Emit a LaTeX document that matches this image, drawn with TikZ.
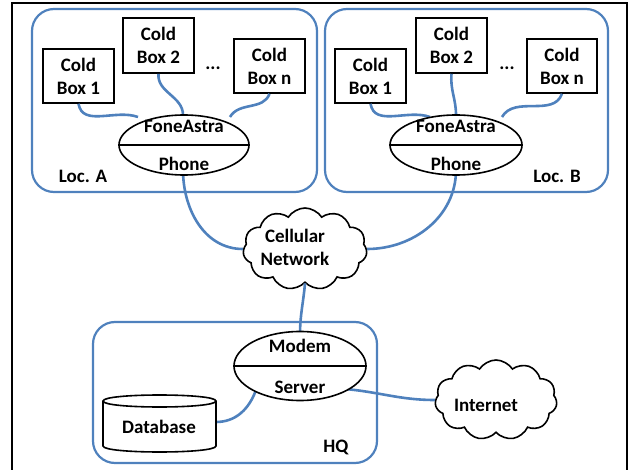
\documentclass[tikz,border=0pt]{standalone}
\usepackage{fontspec}
\setmainfont{Carlito}
\usetikzlibrary{shapes.geometric,shapes.symbols}
\definecolor{wireblue}{HTML}{4F81BD}
\begin{document}
\begin{tikzpicture}[x=1pt,y=-1pt,
  every node/.style={font=\fontsize{19}{23}\selectfont\bfseries},
  area/.style={draw=wireblue, line width=2.2pt, rounded corners=22pt},
  coldbox/.style={draw=black, line width=1.6pt, fill=white, minimum width=71pt, minimum height=54pt, align=center, inner sep=0pt},
  dev/.style={draw=black, line width=1.6pt, fill=white, ellipse, inner sep=0pt},
  netcloud/.style={draw=black, line width=1.6pt, fill=white, cloud, cloud puffs=11, cloud puff arc=115, inner sep=0pt},
  wire/.style={draw=wireblue, line width=2.6pt},
  lbl/.style={inner sep=0pt, align=center}]
\useasboundingbox (0,0) rectangle (629,470);
% outer frame
\draw[black, line width=1.3pt] (12,475) -- (12,3) -- (627,3) -- (627,475);
% areas
\node[area, minimum width=285pt, minimum height=183pt] (locA) at (174.5,100.5) {};
\node[area, minimum width=283pt, minimum height=183pt] (locB) at (466.5,100.5) {};
\node[area, minimum width=284pt, minimum height=141pt] (hq) at (235,392.5) {};
\node[lbl] (labA) at (83,176) {Loc. A};
\node[lbl] (labB) at (557,176) {Loc. B};
\node[lbl] (labHQ) at (336,447) {HQ};
% cold boxes
\node[coldbox] (a1) at (78.5,76) {Cold\\Box 1};
\node[coldbox, minimum height=55pt] (a2) at (158.5,45.5) {Cold\\Box 2};
\node[coldbox] (an) at (269.5,66) {Cold\\Box n};
\node[lbl] (adots) at (213,68) {...};
\node[coldbox] (b1) at (370.5,76) {Cold\\Box 1};
\node[coldbox, minimum height=55pt] (b2) at (451.5,45.5) {Cold\\Box 2};
\node[coldbox, minimum width=70pt] (bn) at (562,66) {Cold\\Box n};
\node[lbl] (bdots) at (507,68) {...};
% clouds
\node[netcloud, minimum width=124pt, minimum height=82pt] (cn) at (305,249) {};
\node[lbl] (cnt) at (295,247) {Cellular\\Network};
\node[netcloud, minimum width=122pt, minimum height=80pt] (inet) at (496,400) {};
\node[lbl] (inett) at (486,405) {Internet};
% wires (drawn before devices)
\draw[wire] (a1.south) to[out=-80,in=160] (138,117);
\draw[wire] (a2.south) to[out=-95,in=90] (183,115);
\draw[wire] (an.south) to[out=-110,in=60] (230,117);
\draw[wire] (b1.south) to[out=-80,in=160] (430,117);
\draw[wire] (b2.south) to[out=-95,in=90] (456,115);
\draw[wire] (bn.south) to[out=-110,in=60] (502,117);
\draw[wire] (183,170) to[out=-90,in=180] (cn.west);
\draw[wire] (456,170) to[out=-90,in=0] (cn.east);
\draw[wire] (cn.south) to[out=-95,in=90] (300,335);
\draw[wire] (216,422) to[out=0,in=-110] (256,390);
\draw[wire] (345,389) to[out=-5,in=180] (inet.west);
% devices
\node[dev, minimum width=130pt, minimum height=60pt] (ea) at (184,145) {};
\draw[line width=1.6pt] (ea.west) -- (ea.east);
\node[lbl] (ea1) at (184,126) {FoneAstra};
\node[lbl] (ea2) at (184,164) {Phone};
\node[dev, minimum width=132pt, minimum height=60pt] (eb) at (456,145) {};
\draw[line width=1.6pt] (eb.west) -- (eb.east);
\node[lbl] (eb1) at (456,126) {FoneAstra};
\node[lbl] (eb2) at (456,164) {Phone};
\node[dev, minimum width=132pt, minimum height=69pt] (em) at (300,366) {};
\draw[line width=1.6pt] (em.west) -- (em.east);
\node[lbl] (em1) at (300,346) {Modem};
\node[lbl] (em2) at (300,387) {Server};
% database cylinder
\node[lbl, minimum width=113pt, minimum height=57pt] (db) at (159.5,423.5) {};
\draw[line width=1.6pt, fill=white] (103,401) .. controls (103,393) and (216,393) .. (216,401)
  -- (216,446) .. controls (216,454) and (103,454) .. (103,446) -- cycle;
\draw[line width=1.6pt] (103,401) .. controls (103,409) and (216,409) .. (216,401);
\node[lbl] (dbt) at (159,427) {Database};
\end{tikzpicture}
\end{document}
